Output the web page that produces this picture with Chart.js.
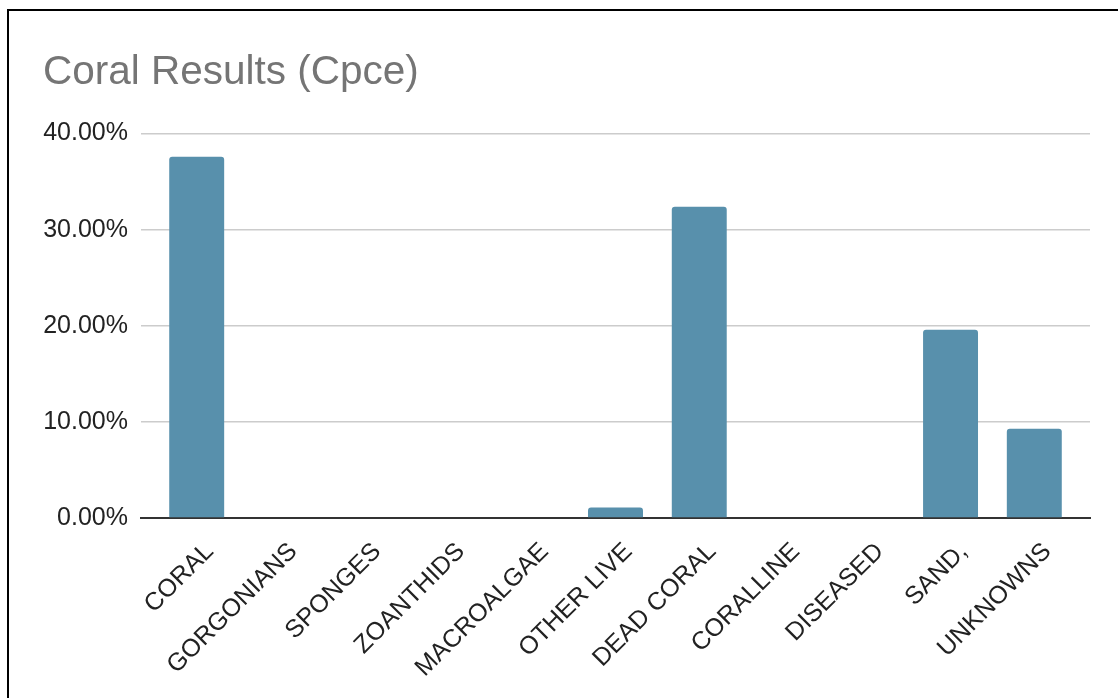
<!DOCTYPE html>
<html><head><meta charset="utf-8">
<script src="https://cdn.jsdelivr.net/npm/chart.js@4"></script>
<style>
html,body{margin:0;padding:0;background:#fff;overflow:hidden;}
#wrap{position:relative;width:1118px;height:698px;}
#frame{position:absolute;left:7px;top:9px;width:1300px;height:900px;border:2px solid #000;pointer-events:none;}
canvas{position:absolute;left:0;top:0;}
</style></head><body>
<div id="wrap"><canvas id="c" width="1118" height="698"></canvas><div id="frame"></div></div>
<script>
const chartTitle = 'Coral Results (Cpce)';
const categories = ['CORAL','GORGONIANS','SPONGES','ZOANTHIDS','MACROALGAE','OTHER LIVE','DEAD CORAL','CORALLINE','DISEASED','SAND,','UNKNOWNS'];
const coverage = [37.6, 0, 0, 0, 0, 1.1, 32.4, 0, 0, 19.6, 9.3];
const yTickValues = [0, 10, 20, 30, 40];

const points = coverage.map((v, i) => ({x: i, y: v}));
const font = 'Liberation Sans, Arial, sans-serif';

new Chart(document.getElementById('c'), {
  type: 'bar',
  data: {
    datasets: [{
      data: points,
      backgroundColor: '#5890ac',
      borderWidth: 0,
      borderRadius: 3,
      borderSkipped: 'start',
      barPercentage: 0.656,
      categoryPercentage: 1.0
    }]
  },
  options: {
    responsive: false,
    animation: false,
    layout: {padding: {left: 43, top: 49, right: 28, bottom: 0}},
    plugins: {
      legend: {display: false},
      tooltip: {enabled: false},
      title: {
        display: true,
        text: chartTitle,
        align: 'start',
        color: '#757575',
        font: {family: font, size: 40.5, weight: 'normal', lineHeight: 1.2},
        padding: {top: 0, bottom: 36}
      }
    },
    scales: {
      x: {
        type: 'linear',
        offset: false,
        min: -0.665,
        max: 10.665,
        z: 1,
        afterBuildTicks: s => { s.ticks = categories.map((c, i) => ({value: i})); },
        afterFit: s => { s.height = 180; },
        grid: {display: false, drawTicks: false},
        border: {display: true, color: '#333333', width: 2},
        ticks: {
          autoSkip: false,
          maxRotation: 45,
          minRotation: 45,
          padding: 19,
          labelOffset: 13,
          color: '#222222',
          font: {family: font, size: 25},
          callback: v => categories[v]
        }
      },
      y: {
        min: 0,
        max: 40,
        afterBuildTicks: s => { s.ticks = yTickValues.map(v => ({value: v})); },
        afterFit: s => { s.width = 98; },
        grid: {
          drawTicks: false,
          color: c => c.tick && c.tick.value === 0 ? 'rgba(0,0,0,0)' : '#cccccc',
          lineWidth: 1.5
        },
        border: {display: false},
        ticks: {
          padding: 13,
          color: '#222222',
          font: {family: font, size: 25},
          callback: v => v.toFixed(2) + '%'
        }
      }
    }
  }
});
</script>
</body></html>
